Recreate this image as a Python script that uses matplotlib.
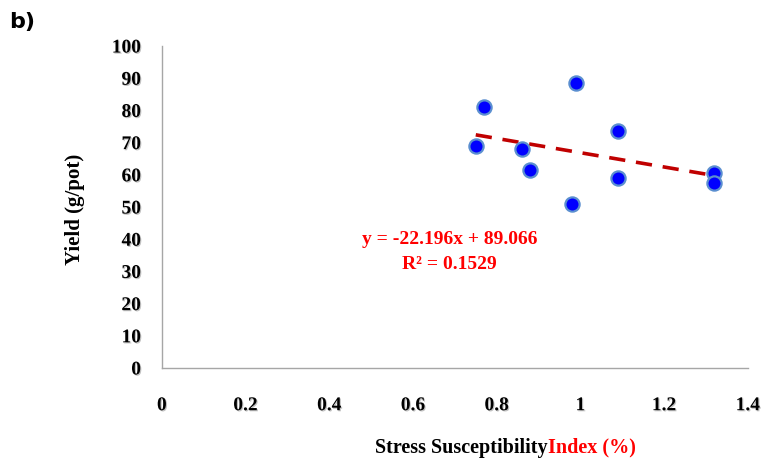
import numpy as np
import matplotlib.pyplot as plt
import matplotlib.patheffects as pe

# stress susceptibility index vs yield
ssi = [0.75, 0.77, 0.86, 0.88, 0.99, 0.98, 1.09, 1.09, 1.32, 1.32]
yield_g = [69.0, 81.0, 68.0, 61.5, 88.6, 51.0, 73.7, 59.0, 60.7, 57.5]

slope = -22.196
intercept = 89.066
r2 = 0.1529

x_ticks = [0, 0.2, 0.4, 0.6, 0.8, 1, 1.2, 1.4]
y_ticks = [0, 10, 20, 30, 40, 50, 60, 70, 80, 90, 100]

serif = "Liberation Serif"
shadow = [pe.SimplePatchShadow(offset=(0.8, -0.8), shadow_rgbFace="#999999", alpha=0.6), pe.Normal()]

fig = plt.figure(figsize=(7.67, 4.65), dpi=100)
ax = fig.add_axes([0.211, 0.2086, 0.764, 0.6924])

ax.scatter(ssi, yield_g, s=105, color="#0000FF", edgecolors="#5B8FD0", linewidths=1.6, zorder=3)

xt = np.array([min(ssi), max(ssi)])
ax.plot(xt, slope * xt + intercept, color="#C00000", lw=2.6, ls=(0, (4.5, 3)), zorder=2)

ax.set_xlim(0, 1.4)
ax.set_ylim(0, 100)
ax.set_xticks(x_ticks)
ax.set_xticklabels([f"{v:g}" for v in x_ticks])
ax.set_yticks(y_ticks)
ax.set_yticklabels([str(v) for v in y_ticks])
ax.tick_params(axis="x", length=0, pad=21)
ax.tick_params(axis="y", length=0, pad=15)
for lab in ax.get_xticklabels() + ax.get_yticklabels():
    lab.set_fontfamily(serif)
    lab.set_fontweight("bold")
    lab.set_fontsize(14)
    lab.set_path_effects(shadow)

for s in ["top", "right"]:
    ax.spines[s].set_visible(False)
for s in ["left", "bottom"]:
    ax.spines[s].set_color("#A6A6A6")
    ax.spines[s].set_linewidth(1.0)

ax.text(0.688, 39.8, f"y = {slope}x + {intercept}", color="#FF0000", fontsize=14,
        fontfamily=serif, fontweight="bold", ha="center", va="center")
ax.text(0.688, 32.3, f"R² = {r2}", color="#FF0000", fontsize=14,
        fontfamily=serif, fontweight="bold", ha="center", va="center")

fig.text(0.098, 0.549, "Yield (g/pot)", rotation=90, fontsize=15, fontfamily=serif,
         fontweight="bold", ha="center", va="center")
fig.text(0.7145, 0.037, "Stress Susceptibility", fontsize=14.5, fontfamily=serif,
         fontweight="bold", ha="right", va="center")
fig.text(0.7145, 0.037, "Index (%)", fontsize=14.5, fontfamily=serif, color="#FF0000",
         fontweight="bold", ha="left", va="center")

fig.text(0.012, 0.952, "b)", fontsize=16, fontweight="bold", ha="left", va="center")

fig.savefig("out.png", dpi=100)
